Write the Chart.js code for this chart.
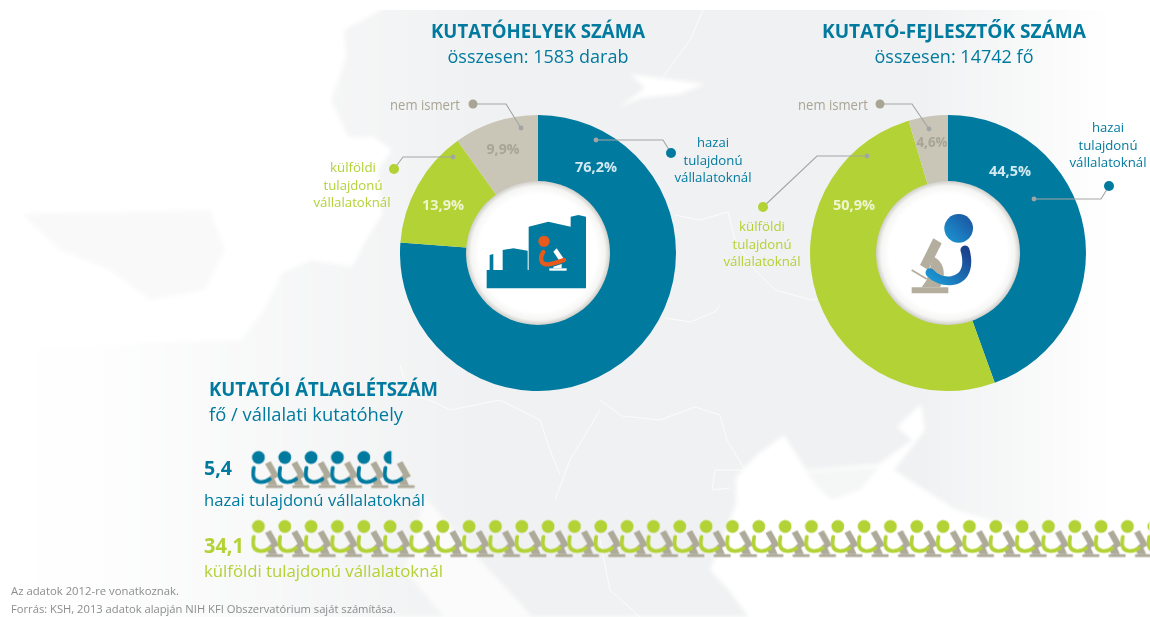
<!DOCTYPE html>
<html lang="hu">
<head>
<meta charset="utf-8">
<title>Kutatóhelyek és kutató-fejlesztők</title>
<script src="https://cdn.jsdelivr.net/npm/chart.js@4"></script>
<style>
html,body{margin:0;padding:0;background:#fff;width:1150px;height:617px;overflow:hidden}
#stage{position:relative;width:1150px;height:617px;overflow:hidden}
#stage svg,#stage canvas{position:absolute}
#map{left:0;top:0;z-index:0}
#c1{left:400px;top:115px;z-index:1}
#c2{left:810px;top:115px;z-index:1}
#overlay{left:0;top:0;z-index:2}
#pict{left:230.4px;top:434px;z-index:3}
text{font-family:"Open Sans",sans-serif}
</style>
</head>
<body>
<div id="stage">
<svg id="map" width="1150" height="617" viewBox="0 0 1150 617">
  <defs>
    <linearGradient id="fade" x1="0" x2="1" y1="0" y2="0">
      <stop offset="0" stop-color="#fff" stop-opacity="0"/>
      <stop offset=".1" stop-color="#fff" stop-opacity=".12"/>
      <stop offset=".25" stop-color="#fff" stop-opacity=".55"/>
      <stop offset=".42" stop-color="#fff" stop-opacity="1"/>
      <stop offset=".8" stop-color="#fff" stop-opacity="1"/>
      <stop offset=".97" stop-color="#fff" stop-opacity="0"/>
    </linearGradient>
    <mask id="m"><rect width="1150" height="617" fill="url(#fade)"/></mask>
    <filter id="soft" x="-5%" y="-5%" width="110%" height="110%"><feGaussianBlur stdDeviation="2"/></filter>
    <clipPath id="topcut"><rect x="0" y="10" width="1150" height="607"/></clipPath>
  </defs>
  <g clip-path="url(#topcut)">
  <g filter="url(#soft)">
    <rect x="0" y="-10" width="1150" height="640" fill="#f0f1f2" mask="url(#m)"/>
    <path fill="#fff" d="M0,-10 L405,-10 L381,10 L344,30 L346,57 L331,100 L348,137 L374,137 L392,150 L378,170 L382,215 L366,240 L352,267 L311,260 L282,273 L264,310 L240,340 L84,345 L0,345Z"/>
    <path fill="#fff" d="M921,404 L897,427 L912,440 L879,464 L806,470 L784,435 L758,454 L736,477 L736,504 L710,570 L729,590 L758,630 L1160,630 L1160,570 L956,510 L894,470 L925,430 Z"/>
    <path fill="#f5f6f6" d="M806,472 L879,467 L860,490 L832,500 L820,490Z"/>
    <path fill="#fbfbfb" d="M425,497 L480,560 L545,630 L455,630 L405,570Z"/>
    <path fill="#fff" d="M630,74 L705,84 L680,94 L640,98 L618,108 L645,88Z"/>
    <path fill="#f9f9f9" d="M22,214 L210,210 L225,250 L205,290 L150,300 L110,270 L60,250Z"/>
  </g>
  <g fill="none" stroke="#fff" stroke-width=".9" opacity=".85">
    <path d="M703,10 L690,40 L663,77"/>
    <path d="M675,215 L700,220 L728,212 L735,240 L755,270 L775,290 L812,300 L855,290"/>
    <path d="M665,318 L690,322 L715,312 L720,305"/>
    <path d="M600,400 L622,416 L660,420 L695,407 L720,415 L727,440 L745,470 L715,470 L712,490 L730,488"/>
    <path d="M400,365 L410,395 L430,400 L450,410 L500,400 L540,420 L550,450 L560,475"/>
    <path d="M600,410 L570,460 L555,500"/>
    <path d="M600,540 L610,590 L640,617"/>
  </g>
  </g>
</svg>
<canvas id="c1" width="276" height="276"></canvas>
<canvas id="c2" width="276" height="276"></canvas>
<svg id="overlay" width="1150" height="617" viewBox="0 0 1150 617">
  <defs>
    <radialGradient id="hole">
      <stop offset=".82" stop-color="#fff"/>
      <stop offset=".93" stop-color="#f5f5f4"/>
      <stop offset="1" stop-color="#cfcec9"/>
    </radialGradient>
    <linearGradient id="headG" x1="0" x2="1" y1="1" y2="0">
      <stop offset="0" stop-color="#1b9ad6"/><stop offset="1" stop-color="#1b4f9c"/>
    </linearGradient>
    <linearGradient id="bodyG" x1="0" x2="1" y1="1" y2="0">
      <stop offset="0" stop-color="#1b9ad6"/><stop offset="1" stop-color="#1b3f8c"/>
    </linearGradient>
  </defs>
  <circle cx="538" cy="253" r="72" fill="url(#hole)"/>
  <circle cx="948" cy="253" r="72" fill="url(#hole)"/>
  <!-- factory icon -->
  <g transform="translate(380,80) scale(.33333)">
    <path fill="#007a9f" d="M320,625 L320,570 L329,570 L329,525 L340,522 L340,570 L368,570 L368,510 L400,505 L443,512 L443,570 L446,570 L446,440 L505,425 L572,440 L572,410 L595,405 L618,410 L618,625Z"/>
    <circle cx="492" cy="484" r="17" fill="#e8591c"/>
    <path fill="#fff" d="M520,515 L530,505 L552,537 L540,545Z"/>
    <path fill="#fff" d="M508,565 L560,565 L560,572 L508,572Z"/>
    <path fill="#fff" d="M520,560 L545,552 L545,565 L520,565Z"/>
    <path fill="none" stroke="#e8591c" stroke-width="13" stroke-linecap="round" d="M490,516 C478,534 482,556 505,553 C520,551 535,546 552,540"/>
  </g>
  <!-- researcher icon -->
  <g transform="translate(700,80) scale(.33333)">
    <path fill="#b3ae9e" d="M700,475 L725,490 L685,570 L660,555Z"/>
    <path fill="#b3ae9e" d="M700,530 C735,545 740,590 720,622 L665,622 L680,600Z"/>
    <path fill="#b3ae9e" d="M635,622 L745,622 L745,640 L635,640Z"/>
    <path fill="none" stroke="#b3ae9e" stroke-width="6" d="M635,570 L680,597"/>
    <circle cx="776" cy="445" r="43" fill="url(#headG)"/>
    <path fill="none" stroke="url(#bodyG)" stroke-width="27" stroke-linecap="round" d="M795,510 C805,545 805,595 755,602 C730,605 705,595 690,578"/>
  </g>
  <g id="leaders"></g>
  <g id="labels"></g>
</svg>
<canvas id="pict" width="950" height="140"></canvas>
</div>
<script>
// ---------- data ----------
const categories = ['hazai', 'külföldi', 'nem ismert'];
const sitesShare = [76.2, 13.9, 9.9];
const staffShare = [44.5, 50.9, 4.6];
const avgStaffRows = ['hazai', 'külföldi'];
const avgStaff = [5.4, 34.1];
const sitesTotal = 1583;
const staffTotal = 14742;
// ---------- styles ----------
const BLUE = '#007a9f', GREEN = '#b2d235', BEIGE = '#c9c5b7', GRAY = '#a8a595', LINE = '#a3a5a5';
const pct = v => v.toFixed(1).replace('.', ',') + '%';
const num = v => v.toFixed(1).replace('.', ',');

function donut(id, values) {
  new Chart(document.getElementById(id), {
    type: 'doughnut',
    data: { labels: categories, datasets: [{ data: values, backgroundColor: [BLUE, GREEN, BEIGE], borderWidth: 0, hoverOffset: 0 }] },
    options: { responsive: false, animation: false, cutout: '50%', layout: { padding: 0 },
      plugins: { legend: { display: false }, tooltip: { enabled: false } } }
  });
}
donut('c1', sitesShare);
donut('c2', staffShare);

// ---------- overlay text and leaders ----------
const NS = 'http://www.w3.org/2000/svg';
function T(text, x, y, w, size, weight, color, anchor) {
  const e = document.createElementNS(NS, 'text');
  const left = anchor === 'c' ? x - w / 2 : x;
  e.setAttribute('x', left); e.setAttribute('y', y);
  e.setAttribute('dominant-baseline', 'central');
  e.setAttribute('font-size', size); e.setAttribute('font-weight', weight);
  e.setAttribute('fill', color);
  e.setAttribute('textLength', w); e.setAttribute('lengthAdjust', 'spacingAndGlyphs');
  e.textContent = text;
  document.getElementById('labels').appendChild(e);
}
const VALL = 'vállalatoknál', TUL = 'tulajdonú';
T('KUTATÓHELYEK SZÁMA', 538, 31, 214, 19, 700, BLUE, 'c');
T('összesen: ' + sitesTotal + ' darab', 538, 56, 181, 19, 400, BLUE, 'c');
T('KUTATÓ-FEJLESZTŐK SZÁMA', 954, 31, 264, 19, 700, BLUE, 'c');
T('összesen: ' + staffTotal + ' fő', 954, 56, 159, 19, 400, BLUE, 'c');

T(pct(sitesShare[0]), 596, 166, 42, 14, 700, '#d3e9f1', 'c');
T(pct(sitesShare[1]), 443, 204, 42, 14, 700, '#eef5cf', 'c');
T(pct(sitesShare[2]), 503, 148, 33, 14, 700, GRAY, 'c');
T(pct(staffShare[0]), 1010, 170, 42, 14, 700, '#d3e9f1', 'c');
T(pct(staffShare[1]), 854, 204, 42, 14, 700, '#eef5cf', 'c');
T(pct(staffShare[2]), 932, 141, 31, 14, 700, GRAY, 'c');

T('nem ismert', 425, 104, 70, 14, 400, GRAY, 'c');
T('hazai', 713, 142, 32, 13.5, 400, BLUE, 'c');
T(TUL, 713, 159.5, 59, 13.5, 400, BLUE, 'c');
T(VALL, 713, 177, 77, 13.5, 400, BLUE, 'c');
T('külföldi', 353, 167, 46, 13.5, 400, GREEN, 'c');
T(TUL, 353, 184.5, 59, 13.5, 400, GREEN, 'c');
T(VALL, 352, 202, 77, 13.5, 400, GREEN, 'c');

T('nem ismert', 833, 104, 70, 14, 400, GRAY, 'c');
T('hazai', 1108, 127, 32, 13.5, 400, BLUE, 'c');
T(TUL, 1108, 144.5, 59, 13.5, 400, BLUE, 'c');
T(VALL, 1108, 162, 77, 13.5, 400, BLUE, 'c');
T('külföldi', 762, 226, 46, 13.5, 400, GREEN, 'c');
T(TUL, 762, 243.5, 59, 13.5, 400, GREEN, 'c');
T(VALL, 762, 261, 77, 13.5, 400, GREEN, 'c');

T('KUTATÓI ÁTLAGLÉTSZÁM', 209, 389, 229, 19, 700, BLUE);
T('fő / vállalati kutatóhely', 209, 414, 194, 18, 400, BLUE);
T(num(avgStaff[0]), 204, 467, 28, 20, 700, BLUE);
T('hazai tulajdonú vállalatoknál', 204, 499, 221, 17, 400, BLUE);
T(num(avgStaff[1]), 204, 545, 40, 21, 700, GREEN);
T('külföldi tulajdonú vállalatoknál', 204, 570, 239, 17, 400, GREEN);
T('Az adatok 2012-re vonatkoznak.', 11, 591, 168, 10.5, 400, '#8b8d8e');
T('Forrás: KSH, 2013 adatok alapján NIH KFI Obszervatórium saját számítása.', 11, 609, 385, 10.5, 400, '#8b8d8e');

function leader(points, bigR, bigColor) {
  const g = document.getElementById('leaders');
  const p = document.createElementNS(NS, 'polyline');
  p.setAttribute('points', points.map(q => q.join(',')).join(' '));
  p.setAttribute('fill', 'none'); p.setAttribute('stroke', LINE); p.setAttribute('stroke-width', '1.1');
  g.appendChild(p);
  const a = points[0], b = points[points.length - 1];
  const c1 = document.createElementNS(NS, 'circle');
  c1.setAttribute('cx', a[0]); c1.setAttribute('cy', a[1]); c1.setAttribute('r', 2.4); c1.setAttribute('fill', LINE);
  g.appendChild(c1);
  const c2 = document.createElementNS(NS, 'circle');
  c2.setAttribute('cx', b[0]); c2.setAttribute('cy', b[1]); c2.setAttribute('r', bigR); c2.setAttribute('fill', bigColor);
  g.appendChild(c2);
}
leader([[596,140],[663,140],[671,153]], 5, BLUE);
leader([[521,128],[506,104],[473,104]], 4.5, GRAY);
leader([[453,157],[403,157],[394,169]], 5, GREEN);
leader([[929,129],[912,104],[880,104]], 4.5, GRAY);
leader([[867,156],[817,156],[763,207]], 5, GREEN);
leader([[1034,199],[1101,199],[1109,186]], 5, BLUE);

// ---------- pictogram chart: one sprite per researcher ----------
const BODY = new Path2D('M10,22 C13,38 12,50 -2,52 C-10,53 -18,50 -24,46');
const TUBE = new Path2D('M-26,8 L-14,14 L-32,46 L-44,40Z');
const FOOT = new Path2D('M-30,36 C-18,40 -16,50 -22,59 L-40,59 L-36,50Z');
const BASE = new Path2D('M-52,59 L-16,59 L-16,65 L-52,65Z');
const S = 0.47, HX = 8, HY = 8;
function sprite(color, headFrac) {
  const c = document.createElement('canvas');
  c.width = 40; c.height = 40;
  const g = c.getContext('2d');
  g.save();
  g.translate(HX, HY);
  g.scale(-S, S);
  g.fillStyle = '#aeaa9a';
  g.fill(TUBE); g.fill(FOOT); g.fill(BASE);
  g.strokeStyle = color; g.lineWidth = 8; g.lineCap = 'round';
  g.stroke(BODY);
  g.restore();
  g.save();
  g.beginPath();
  g.rect(0, 0, HX - 6.5 + 13 * headFrac, HY + 8);
  g.clip();
  g.fillStyle = color;
  g.beginPath(); g.arc(HX, HY, 6.5, 0, Math.PI * 2); g.fill();
  g.restore();
  return c;
}
const rowColors = [BLUE, GREEN];
const rowY = [1, 0];
const datasets = avgStaff.map((v, r) => {
  const whole = sprite(rowColors[r], 1);
  const frac = v - Math.floor(v);
  const part = sprite(rowColors[r], Math.min(1, frac * 1.5));
  const n = Math.ceil(v);
  const pts = [];
  for (let i = 0; i < n; i++) pts.push({ x: i + 0.5, y: rowY[r] });
  return {
    label: avgStaffRows[r], data: pts, showLine: false, clip: false,
    pointRadius: 1, pointHoverRadius: 1, borderWidth: 0,
    pointStyle: ctx => (ctx.dataIndex === n - 1 && frac > 0 ? part : whole)
  };
});
new Chart(document.getElementById('pict'), {
  type: 'scatter',
  data: { datasets },
  options: {
    responsive: false, animation: false, layout: { padding: 0 },
    plugins: { legend: { display: false }, tooltip: { enabled: false } },
    scales: {
      x: { type: 'linear', display: false, min: -1, max: 35 },
      y: { type: 'linear', display: false, min: -0.5, max: 1.5 }
    }
  }
});
</script>
</body>
</html>
